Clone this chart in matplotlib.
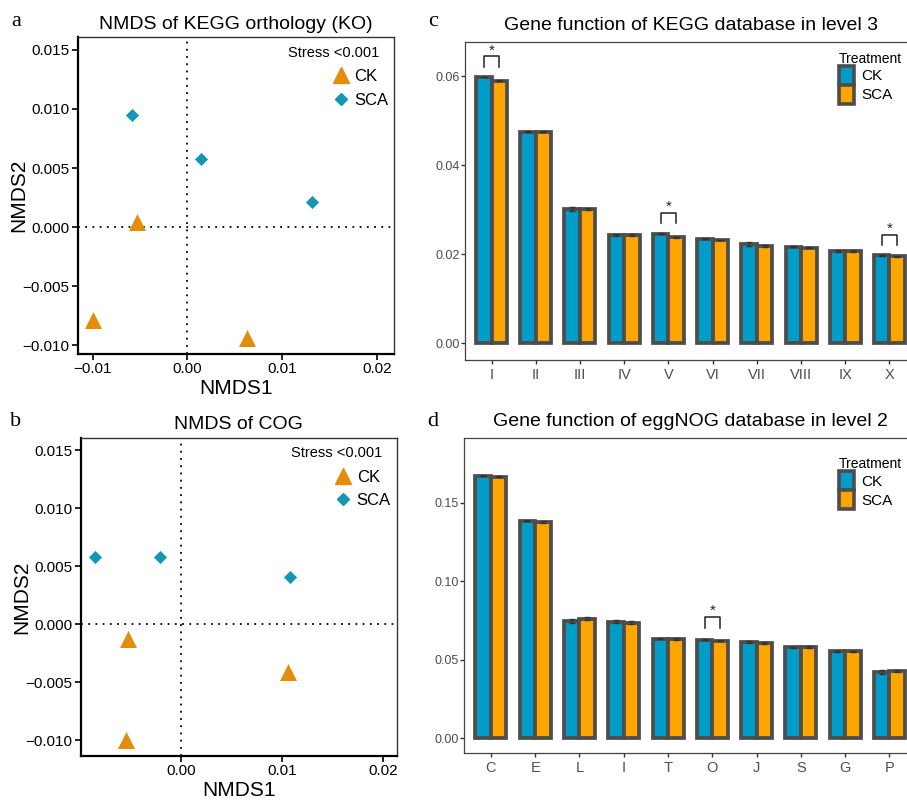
import matplotlib
matplotlib.use("Agg")
import matplotlib.pyplot as plt
from matplotlib.lines import Line2D
from matplotlib.patches import Patch
import numpy as np

plt.rcParams['font.family'] = ['Liberation Sans', 'DejaVu Sans']

# ---------------- data ----------------
# Panel a: NMDS of KEGG orthology
ko_ck_x = [-0.0053, -0.0100, 0.0063]
ko_ck_y = [0.0004, -0.0079, -0.0094]
ko_sca_x = [-0.0058, 0.0014, 0.0131]
ko_sca_y = [0.0095, 0.0058, 0.0021]

# Panel b: NMDS of COG
cog_ck_x = [-0.0053, 0.0106, -0.0054]
cog_ck_y = [-0.0013, -0.0041, -0.0100]
cog_sca_x = [-0.0085, -0.0021, 0.0108]
cog_sca_y = [0.0058, 0.0058, 0.0041]

# Panel c: KEGG level 3
kegg_cats = ['I', 'II', 'III', 'IV', 'V', 'VI', 'VII', 'VIII', 'IX', 'X']
kegg_ck = [0.0598, 0.04756, 0.0301, 0.0244, 0.02463, 0.02344, 0.02225, 0.02172, 0.02081, 0.01978]
kegg_sca = [0.0590, 0.04756, 0.0301, 0.02427, 0.02382, 0.02321, 0.02187, 0.02148, 0.02074, 0.01955]
kegg_ck_err = [0.0001, 0.0001, 0.0004, 0.0002, 0.0001, 0.0001, 0.0004, 0.0001, 0.0002, 0.0001]
kegg_sca_err = [0.0001, 0.0001, 0.0002, 0.0002, 0.0001, 0.0001, 0.0003, 0.0001, 0.0003, 0.0001]
kegg_sig = ['I', 'V', 'X']

# Panel d: eggNOG level 2
egg_cats = ['C', 'E', 'L', 'I', 'T', 'O', 'J', 'S', 'G', 'P']
egg_ck = [0.1671, 0.1386, 0.0747, 0.0743, 0.0634, 0.0626, 0.0615, 0.0580, 0.0554, 0.0422]
egg_sca = [0.1666, 0.1378, 0.0760, 0.0736, 0.0632, 0.0620, 0.0607, 0.0582, 0.0554, 0.0429]
egg_ck_err = [0.0003, 0.0004, 0.0012, 0.0007, 0.0003, 0.0003, 0.0007, 0.0003, 0.0002, 0.0015]
egg_sca_err = [0.0005, 0.0007, 0.0010, 0.0008, 0.0004, 0.0003, 0.0004, 0.0005, 0.0002, 0.0008]
egg_sig = ['O']

# ---------------- styling ----------------
TRI_COL = '#E38D0A'
DIA_COL = '#1597B3'
CK_BAR = '#009DC8'
SCA_BAR = '#FFA500'
EDGE = '#4D4D4D'

fig = plt.figure(figsize=(9.07, 8.01), dpi=100)
W, H = 907, 801

def ax_px(l, t, r, b):
    return fig.add_axes([l / W, 1 - b / H, (r - l) / W, (b - t) / H])


def nmds(ax, ckx, cky, scax, scay, title, xlim, ylim, xticks, xticklabels):
    ax.axhline(0, color='black', ls=(0, (1, 3)), lw=1.3, zorder=1)
    ax.axvline(0, color='black', ls=(0, (1, 3)), lw=1.3, zorder=1)
    ax.scatter(ckx, cky, marker='^', s=150, color=TRI_COL, zorder=3, linewidths=0)
    ax.scatter(scax, scay, marker='D', s=45, color=DIA_COL, zorder=3, linewidths=0)
    ax.set_xlim(*xlim)
    ax.set_ylim(*ylim)
    ax.set_xticks(xticks)
    ax.set_xticklabels(xticklabels)
    yt = [-0.010, -0.005, 0.000, 0.005, 0.010, 0.015]
    ax.set_yticks(yt)
    ax.set_yticklabels(['\u22120.010', '\u22120.005', '0.000', '0.005', '0.010', '0.015'])
    ax.tick_params(direction='out', length=4, width=1.2, labelsize=11, colors='black', pad=2)
    for s in ['left', 'bottom']:
        ax.spines[s].set_linewidth(1.6)
        ax.spines[s].set_color('black')
    for s in ['top', 'right']:
        ax.spines[s].set_linewidth(1.0)
        ax.spines[s].set_color('#333333')
    ax.set_xlabel('NMDS1', fontsize=15, labelpad=2)
    ax.set_ylabel('NMDS2', fontsize=15, labelpad=-4)
    ax.set_title(title, fontsize=14, pad=6)
    ax.text(0.81, 0.951, 'Stress <0.001', transform=ax.transAxes, ha='center', va='center', fontsize=10.5)
    handles = [Line2D([], [], marker='^', ls='none', color=TRI_COL, markersize=12, label='CK'),
               Line2D([], [], marker='D', ls='none', color=DIA_COL, markersize=6, label='SCA')]
    ax.legend(handles=handles, loc='upper right', bbox_to_anchor=(1.013, 0.93), frameon=False,
              fontsize=12, handletextpad=0.3, labelspacing=0.5, borderaxespad=0.2, handlelength=1.0)


def bars(ax, cats, ck, sca, ckerr, scaerr, sig, title, ylim, yticks, yticklabels, sig_top, sig_leg, leg_y):
    x = np.arange(1, len(cats) + 1)
    w = 0.35
    ax.bar(x - w / 2, ck, width=w, color=CK_BAR, edgecolor=EDGE, linewidth=2.7, zorder=2)
    ax.bar(x + w / 2, sca, width=w, color=SCA_BAR, edgecolor=EDGE, linewidth=2.7, zorder=2)
    ax.errorbar(x - w / 2, ck, yerr=ckerr, fmt='none', ecolor='#333333', elinewidth=1.0, capsize=2, zorder=3)
    ax.errorbar(x + w / 2, sca, yerr=scaerr, fmt='none', ecolor='#333333', elinewidth=1.0, capsize=2, zorder=3)
    rng = ylim[1] - ylim[0]
    for c in sig:
        i = cats.index(c)
        top = max(ck[i], sca[i]) + sig_top * rng
        leg = max(ck[i], sca[i]) + sig_leg * rng
        xl, xr = x[i] - w / 2, x[i] + w / 2
        ax.plot([xl, xl, xr, xr], [leg, top, top, leg], color='#222222', lw=1.1, zorder=3)
        ax.text(x[i], top - 0.004 * rng, '*', ha='center', va='bottom', fontsize=11, color='#222222')
    ax.set_xlim(0.4, 10.6)
    ax.set_ylim(*ylim)
    ax.set_xticks(x)
    ax.set_xticklabels(cats)
    ax.set_yticks(yticks)
    ax.set_yticklabels(yticklabels)
    ax.tick_params(axis='both', direction='out', length=3, width=1.0, colors='#333333', labelcolor='#4D4D4D')
    ax.tick_params(axis='y', labelsize=9, pad=1)
    ax.tick_params(axis='x', labelsize=10.5, pad=3)
    for s in ax.spines.values():
        s.set_color('#444444')
        s.set_linewidth(0.9)
    ax.set_title(title, fontsize=14, pad=9, x=0.5)
    handles = [Patch(facecolor=CK_BAR, edgecolor=EDGE, linewidth=2.6, label='CK'),
               Patch(facecolor=SCA_BAR, edgecolor=EDGE, linewidth=2.6, label='SCA')]
    lg = ax.legend(handles=handles, title='Treatment', loc='upper left', bbox_to_anchor=(0.815, leg_y),
                   frameon=False, fontsize=11, title_fontsize=10, handlelength=1.0, handleheight=1.55,
                   labelspacing=0.0, handletextpad=0.5, borderaxespad=0.0)
    lg._legend_box.align = 'left'


ax_a = ax_px(78, 37, 394, 354)
nmds(ax_a, ko_ck_x, ko_ck_y, ko_sca_x, ko_sca_y, 'NMDS of KEGG orthology (KO)',
     (-0.01155, 0.0218), (-0.01076, 0.0161), [-0.01, 0.0, 0.01, 0.02],
     ['\u22120.01', '0.00', '0.01', '0.02'])

ax_b = ax_px(81, 437.7, 396.7, 756)
nmds(ax_b, cog_ck_x, cog_ck_y, cog_sca_x, cog_sca_y, 'NMDS of COG',
     (-0.0099, 0.02133), (-0.01135, 0.01609), [0.0, 0.01, 0.02],
     ['0.00', '0.01', '0.02'])

ax_c = ax_px(465, 42.3, 916, 360)
bars(ax_c, kegg_cats, kegg_ck, kegg_sca, kegg_ck_err, kegg_sca_err, kegg_sig,
     'Gene function of KEGG database in level 3', (-0.00375, 0.0676),
     [0.0, 0.02, 0.04, 0.06], ['0.00', '0.02', '0.04', '0.06'], 0.065, 0.033, 0.99)

ax_d = ax_px(464.3, 438.3, 916, 752.7)
bars(ax_d, egg_cats, egg_ck, egg_sca, egg_ck_err, egg_sca_err, egg_sig,
     'Gene function of eggNOG database in level 2', (-0.0092, 0.191),
     [0.0, 0.05, 0.10, 0.15], ['0.00', '0.05', '0.10', '0.15'], 0.074, 0.038, 0.96)

# panel letters
for lab, px, py in [('a', 16, 22), ('b', 16, 422), ('c', 433, 22), ('d', 433, 422)]:
    fig.text(px / W, 1 - py / H, lab, fontsize=16, family=['Liberation Serif', 'DejaVu Serif'],
             ha='center', va='center')

fig.savefig('out.png', dpi=100)
